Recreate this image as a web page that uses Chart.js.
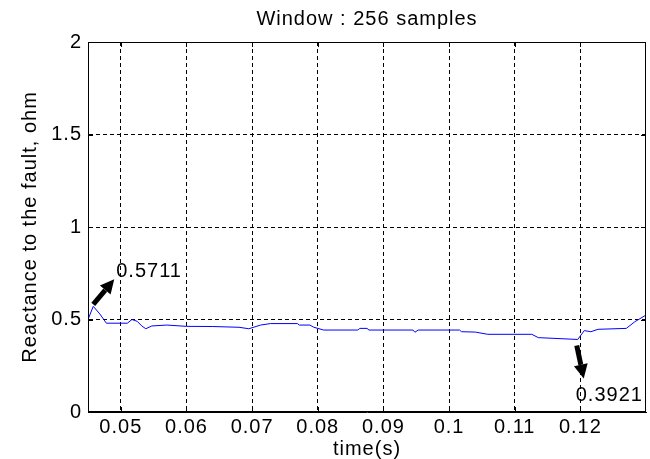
<!DOCTYPE html>
<html>
<head>
<meta charset="utf-8">
<title>Window : 256 samples</title>
<script src="https://cdn.jsdelivr.net/npm/chart.js@4.4.1/dist/chart.umd.min.js"></script>
<style>
    html, body { margin: 0; padding: 0; background: #fff; }
    #wrap { width: 650px; height: 459px; }
</style>
</head>
<body>
<div id="wrap"><canvas id="reactanceChart" width="650" height="459"></canvas></div>
<script>
// time (s) and reactance (ohm)
const timeValues = [
    0.0450, 0.0458, 0.0468, 0.0478, 0.0500, 0.0510, 0.0517, 0.0525, 0.0532, 0.0538,
    0.0547, 0.0570, 0.0600, 0.0640, 0.0680, 0.0695, 0.0713, 0.0728, 0.0769, 0.0772,
    0.0788, 0.0794, 0.0809, 0.0861, 0.0864, 0.0875, 0.0878, 0.0945, 0.0948, 0.0953,
    0.1016, 0.1019, 0.1040, 0.1059, 0.1126, 0.1136, 0.1196, 0.1206, 0.1216, 0.1227,
    0.1270, 0.1283, 0.1300
];
const reactanceValues = [
    0.500, 0.5711, 0.530, 0.480, 0.480, 0.480, 0.500, 0.490, 0.465, 0.450,
    0.465, 0.470, 0.463, 0.462, 0.458, 0.450, 0.470, 0.478, 0.478, 0.470,
    0.470, 0.458, 0.443, 0.443, 0.452, 0.452, 0.443, 0.443, 0.431, 0.443,
    0.443, 0.434, 0.432, 0.420, 0.420, 0.402, 0.3921, 0.440, 0.434, 0.447,
    0.452, 0.488, 0.524
];

const xTickValues = [0.05, 0.06, 0.07, 0.08, 0.09, 0.1, 0.11, 0.12];
const yTickValues = [0, 0.5, 1, 1.5, 2];

// marked extremes: [time, reactance, label]
const peakMark = [0.0458, 0.5711, '0.5711'];
const dipMark = [0.1196, 0.3921, '0.3921'];

const FONT = "'Liberation Sans', Arial, Helvetica, sans-serif";
const SPACING = '1px';

Chart.defaults.font.family = FONT;
Chart.defaults.font.size = 20;
Chart.defaults.color = '#000';

// letter spacing has to be put back after every canvas reset
const letterSpacing = {
    id: 'letterSpacing',
    beforeLayout(chart) { chart.ctx.letterSpacing = SPACING; },
    beforeDraw(chart) { chart.ctx.letterSpacing = SPACING; }
};

// box round the axes with short inward ticks, like matlab
const matlabFrame = {
    id: 'matlabFrame',
    afterDatasetsDraw(chart) {
        const { ctx, chartArea: a, scales } = chart;
        ctx.save();
        ctx.strokeStyle = '#000';
        ctx.lineWidth = 1;
        ctx.setLineDash([]);
        ctx.strokeRect(a.left + 0.5, a.top + 0.5, a.right - a.left - 1, a.bottom - a.top - 1);
        const len = 5;
        ctx.beginPath();
        xTickValues.forEach(v => {
            const px = Math.round(scales.x.getPixelForValue(v)) + 0.5;
            ctx.moveTo(px, a.bottom); ctx.lineTo(px, a.bottom - len);
            ctx.moveTo(px, a.top); ctx.lineTo(px, a.top + len);
        });
        yTickValues.forEach(v => {
            const py = Math.round(scales.y.getPixelForValue(v)) + 0.5;
            ctx.moveTo(a.left, py); ctx.lineTo(a.left + len, py);
            ctx.moveTo(a.right, py); ctx.lineTo(a.right - len, py);
        });
        ctx.stroke();
        ctx.restore();
    }
};

function drawArrow(ctx, x1, y1, x2, y2) {
    const ang = Math.atan2(y2 - y1, x2 - x1);
    const head = 14, half = 7;
    const bx = x2 - head * Math.cos(ang);
    const by = y2 - head * Math.sin(ang);
    ctx.lineWidth = 5;
    ctx.beginPath();
    ctx.moveTo(x1, y1);
    ctx.lineTo(bx, by);
    ctx.stroke();
    ctx.beginPath();
    ctx.moveTo(x2, y2);
    ctx.lineTo(bx + half * Math.sin(ang), by - half * Math.cos(ang));
    ctx.lineTo(bx - half * Math.sin(ang), by + half * Math.cos(ang));
    ctx.closePath();
    ctx.fill();
}

// arrows and value labels on the peak and the dip
const extremeMarkers = {
    id: 'extremeMarkers',
    afterDraw(chart) {
        const { ctx, scales } = chart;
        ctx.save();
        ctx.fillStyle = '#000';
        ctx.strokeStyle = '#000';
        ctx.letterSpacing = SPACING;
        ctx.font = '20px ' + FONT;
        ctx.textAlign = 'left';
        ctx.textBaseline = 'alphabetic';

        let px = scales.x.getPixelForValue(peakMark[0]);
        let py = scales.y.getPixelForValue(peakMark[1]);
        drawArrow(ctx, px, py - 2, px + 21, py - 27);
        ctx.fillText(peakMark[2], px + 23, py - 29);

        px = scales.x.getPixelForValue(dipMark[0]);
        py = scales.y.getPixelForValue(dipMark[1]);
        drawArrow(ctx, px - 1, py + 6, px + 6, py + 39);
        ctx.fillText(dipMark[2], px - 2, py + 62);
        ctx.restore();
    }
};

const reactanceChart = new Chart(document.getElementById('reactanceChart'), {
    type: 'line',
    data: {
        datasets: [{
            data: timeValues.map((t, i) => ({ x: t, y: reactanceValues[i] })),
            borderColor: '#0000ff',
            borderWidth: 1,
            pointRadius: 0,
            tension: 0,
            fill: false
        }]
    },
    options: {
        responsive: false,
        animation: false,
        devicePixelRatio: 1,
        layout: { padding: { top: 0, right: 4, bottom: 0, left: 0 } },
        plugins: {
            legend: { display: false },
            tooltip: { enabled: false },
            title: {
                display: true,
                fullSize: false,
                text: 'Window : 256 samples',
                color: '#000',
                font: { size: 20, weight: 'normal' },
                padding: { top: 7, bottom: 11 }
            }
        },
        scales: {
            x: {
                type: 'linear',
                min: 0.045,
                max: 0.13,
                afterBuildTicks: s => { s.ticks = xTickValues.map(v => ({ value: v })); },
                afterFit: s => { s.height = 47; },
                ticks: {
                    padding: 3,
                    maxRotation: 0,
                    autoSkip: false,
                    callback: v => String(+v.toFixed(3))
                },
                grid: { color: '#000', drawTicks: false, tickLength: 0 },
                border: { display: true, color: '#000', dash: [4, 3] },
                title: {
                    display: true,
                    text: 'time(s)',
                    font: { size: 20, lineHeight: 1 },
                    padding: { top: 0, bottom: 0 }
                }
            },
            y: {
                min: 0,
                max: 2,
                afterBuildTicks: s => { s.ticks = yTickValues.map(v => ({ value: v })); },
                afterFit: s => { s.width = 88; },
                ticks: { padding: 6, callback: v => String(v) },
                grid: { color: '#000', drawTicks: false, tickLength: 0 },
                border: { display: true, color: '#000', dash: [4, 3] },
                title: {
                    display: true,
                    text: 'Reactance to the fault, ohm',
                    font: { size: 20 },
                    padding: { top: 18, bottom: 0 }
                }
            }
        }
    },
    plugins: [letterSpacing, matlabFrame, extremeMarkers]
});
</script>
</body>
</html>
